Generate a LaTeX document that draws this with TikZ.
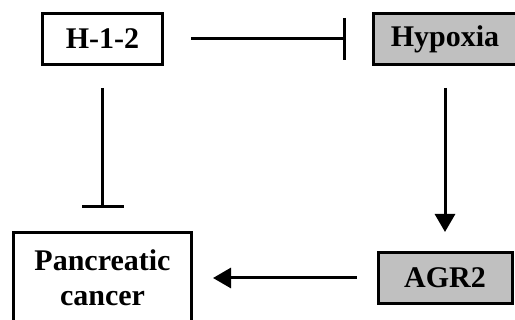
\documentclass[tikz,border=0pt]{standalone}
\usepackage{fontspec}
\setmainfont{Liberation Serif}
\usetikzlibrary{shapes, arrows.meta}
\definecolor{boxGray}{RGB}{192,192,192}
\tikzstyle{factor} = [rectangle, draw=black, line width=3pt, inner sep=0pt, align=center, font=\fontsize{30}{35}\selectfont\bfseries]
\tikzstyle{inhibit} = [line width=3pt, -{Bar[width=42pt]}]
\tikzstyle{promote} = [line width=3pt, -{Triangle[width=20pt,length=18pt]}]

\begin{document}
\begin{tikzpicture}[x=1pt, y=-1pt]
\useasboundingbox (0,0) rectangle (515,320);
\node[factor, minimum width=120pt, minimum height=51pt] (H12) at (102.5,39) {H-1-2};
\node[factor, fill=boxGray, minimum width=143pt, minimum height=51pt] (Hypoxia) at (445,39) {Hypoxia};
\node[factor, fill=boxGray, minimum width=134pt, minimum height=51pt] (AGR2) at (445,278) {AGR2};
\node[factor, minimum width=178pt, minimum height=90pt] (Cancer) at (102.5,278) {Pancreatic\\cancer};
\draw[inhibit, shorten <=27pt, shorten >=26pt] (H12) -- (Hypoxia);
\draw[inhibit, shorten <=22pt, shorten >=23pt] (H12) -- (Cancer);
\draw[promote, shorten <=22pt, shorten >=19pt] (Hypoxia) -- (AGR2);
\draw[promote, shorten <=20pt, shorten >=20pt] (AGR2) -- (Cancer);
\end{tikzpicture}
\end{document}
